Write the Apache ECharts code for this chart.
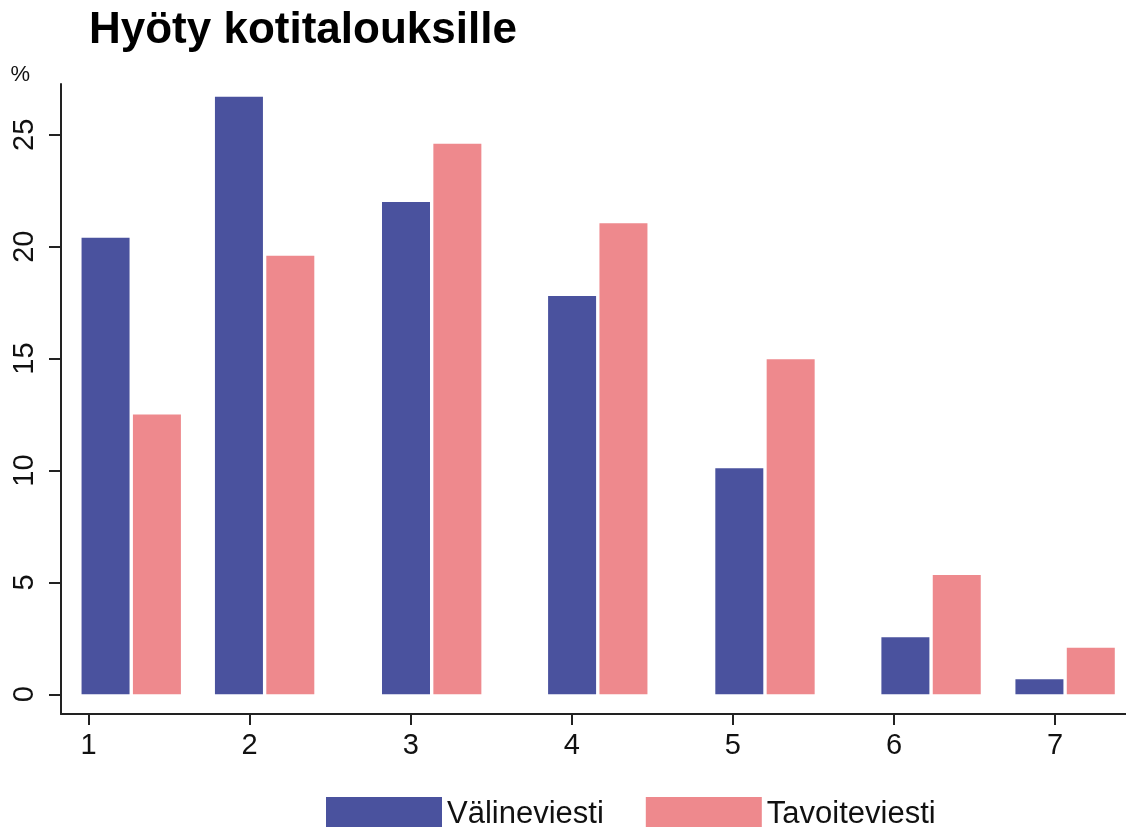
<!DOCTYPE html>
<html>
<head>
<meta charset="utf-8">
<title>Hyöty kotitalouksille</title>
<script src="https://cdn.jsdelivr.net/npm/echarts@6/dist/echarts.min.js"></script>
<style>
  html, body { margin: 0; padding: 0; background: #fff; }
  #main { width: 1126px; height: 827px; }
</style>
</head>
<body>
<div id="main"></div>
<script type="text/javascript">
// position of each bar pair on the x scale
var groupPos = [1.265, 2.093, 3.130, 4.161, 5.199, 6.230, 7.062];
var valineviesti = [20.4, 26.7, 22.0, 17.8, 10.1, 2.55, 0.67];
var tavoiteviesti = [12.5, 19.6, 24.6, 21.05, 14.97, 5.33, 2.08];
var xTicks = [1, 2, 3, 4, 5, 6, 7];
var yTicks = [0, 5, 10, 15, 20, 25];
var seriesNames = ['Välineviesti', 'Tavoiteviesti'];

function pairs(vals) {
    return vals.map(function (v, i) { return [groupPos[i], v]; });
}

var font = '"Liberation Sans", Arial, Helvetica, sans-serif';
var myChart = echarts.init(document.getElementById('main'));

var option = {
    backgroundColor: '#fff',
    animation: false,
    textStyle: { fontFamily: font },
    title: {
        text: 'Hyöty kotitalouksille',
        left: 84,
        top: 4,
        textStyle: { fontSize: 44, fontWeight: 'bold', color: '#000', fontFamily: font }
    },
    legend: {
        data: seriesNames,
        left: 321,
        top: 792,
        icon: 'rect',
        itemWidth: 116,
        itemHeight: 34,
        itemGap: 42,
        textStyle: { fontSize: 31, color: '#111', fontFamily: font }
    },
    grid: { left: 61, right: 0, top: 84, bottom: 113 },
    xAxis: {
        type: 'value',
        min: 0.829,
        max: 7.44,
        axisLine: { show: true, onZero: false, lineStyle: { color: '#222', width: 2 } },
        axisTick: { show: true, customValues: xTicks, length: 11, lineStyle: { color: '#222', width: 2 } },
        axisLabel: { customValues: xTicks, margin: 17, fontSize: 29, color: '#111', fontFamily: font },
        splitLine: { show: false }
    },
    yAxis: {
        type: 'value',
        min: -0.88,
        max: 27.27,
        name: '%',
        nameLocation: 'end',
        nameGap: -2,
        nameTextStyle: { fontSize: 22, color: '#111', align: 'right', padding: [0, 31, 0, 0], fontFamily: font },
        axisLine: { show: true, onZero: false, lineStyle: { color: '#222', width: 2 } },
        axisTick: { show: true, customValues: yTicks, length: 12, lineStyle: { color: '#222', width: 2 } },
        axisLabel: { customValues: yTicks, rotate: 90, margin: 22, fontSize: 29, color: '#111', fontFamily: font },
        splitLine: { show: false }
    },
    series: [
        {
            name: seriesNames[0],
            type: 'bar',
            barWidth: 48,
            barGap: '7%',
            itemStyle: { color: '#4a529e' },
            data: pairs(valineviesti)
        },
        {
            name: seriesNames[1],
            type: 'bar',
            barWidth: 48,
            barGap: '7%',
            itemStyle: { color: '#ee898d' },
            data: pairs(tavoiteviesti)
        }
    ]
};
myChart.setOption(option);
</script>
</body>
</html>
